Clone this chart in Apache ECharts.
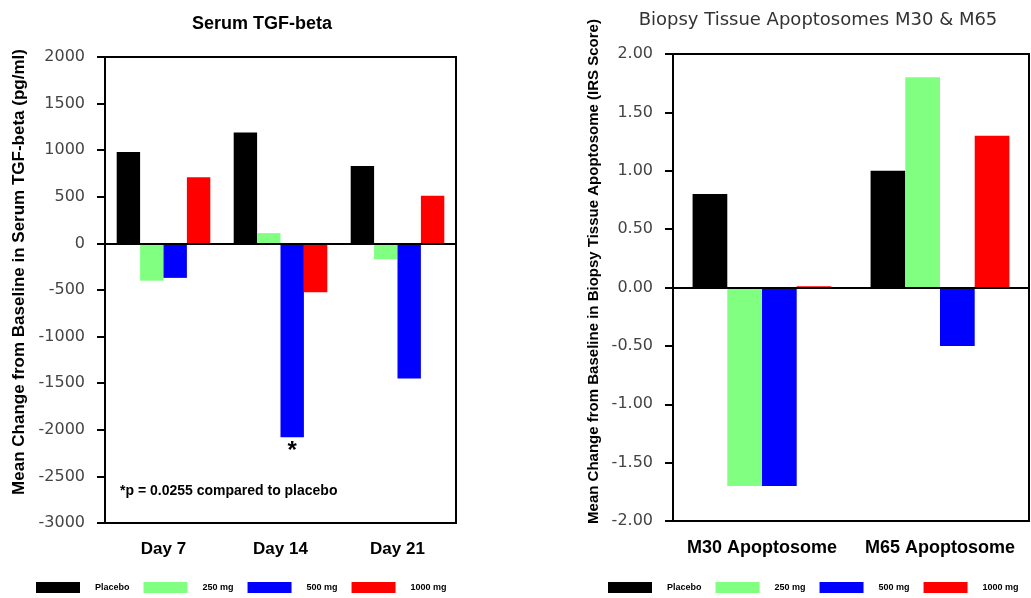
<!DOCTYPE html>
<html>
<head>
<meta charset="utf-8">
<script src="https://cdn.jsdelivr.net/npm/echarts@6/dist/echarts.min.js"></script>
<style>
  html, body { margin: 0; padding: 0; background: #fff; }
  #chart { width: 1031px; height: 598px; }
</style>
</head>
<body>
<div id="chart"></div>
<script>
// Serum TGF-beta: mean change from baseline (pg/ml)
const tgfCategories = ['Day 7', 'Day 14', 'Day 21'];
const tgfPlacebo = [980, 1190, 830];
const tgf250 = [-400, 110, -170];
const tgf500 = [-370, -2080, -1450];
const tgf1000 = [710, -525, 510];
const tgf500Significant = [false, true, false];
const tgfAxis = { min: -3000, max: 2000, interval: 500 };

// Biopsy tissue apoptosomes: mean change from baseline (IRS score)
const apoCategories = ['M30 Apoptosome', 'M65 Apoptosome'];
const apoPlacebo = [0.80, 1.00];
const apo250 = [-1.70, 1.80];
const apo500 = [-1.70, -0.50];
const apo1000 = [0.01, 1.30];
const apoAxis = { min: -2, max: 2, interval: 0.5 };

const seriesNames = ['Placebo', '250 mg', '500 mg', '1000 mg'];
const seriesColors = ['#000000', '#80FF80', '#0000FF', '#FF0000'];

const tickFont = { fontFamily: 'DejaVu Sans', fontSize: 16, color: '#444' };
const boldFont = 'Liberation Sans';

function zeroLine() {
  return {
    silent: true,
    symbol: 'none',
    label: { show: false },
    lineStyle: { color: '#000', width: 2, type: 'solid' },
    data: [{ yAxis: 0 }]
  };
}

function barSeries(name, idx, values, axisIndex, extra) {
  return Object.assign({
    name: name,
    type: 'bar',
    xAxisIndex: axisIndex,
    yAxisIndex: axisIndex,
    data: values,
    barGap: '0%',
    barCategoryGap: axisIndex === 0 ? '20%' : '22%',
    itemStyle: { color: seriesColors[idx] },
    emphasis: { disabled: true },
    animation: false
  }, extra || {});
}

const tgf500Data = tgf500.map((v, i) => tgf500Significant[i]
  ? { value: v, label: { show: true, position: 'bottom', distance: 2, formatter: '*',
      fontSize: 24, fontWeight: 'bold', color: '#000', fontFamily: boldFont } }
  : v);

const legendBase = {
  data: seriesNames,
  top: 582,
  padding: 0,
  itemWidth: 44,
  itemHeight: 11,
  itemGap: 14,
  icon: 'rect',
  selectedMode: false,
  formatter: '{n|{name}}',
  textStyle: {
    rich: {
      n: { fontFamily: boldFont, fontSize: 9, fontWeight: 'bold', color: '#000',
           width: 40, padding: [0, 0, 0, 10] }
    }
  }
};

const option = {
  animation: false,
  backgroundColor: '#fff',
  title: [
    { text: 'Serum TGF-beta', left: 257, top: 10, textAlign: 'center',
      textStyle: { fontFamily: boldFont, fontSize: 18, fontWeight: 'bold', color: '#000' } },
    { text: 'Biopsy Tissue Apoptosomes M30 & M65', left: 813, top: 6, textAlign: 'center',
      textStyle: { fontFamily: 'DejaVu Sans', fontSize: 18, fontWeight: 'normal', color: '#333' } }
  ],
  legend: [
    Object.assign({ left: 36 }, legendBase),
    Object.assign({ left: 608 }, legendBase)
  ],
  grid: [
    { left: 105, right: 575, top: 57, bottom: 75, show: true, borderColor: '#000', borderWidth: 2 },
    { left: 673, right: 2, top: 54, bottom: 77, show: true, borderColor: '#000', borderWidth: 2 }
  ],
  xAxis: [
    { type: 'category', gridIndex: 0, data: tgfCategories,
      axisLine: { onZero: false, lineStyle: { color: '#000', width: 2 } },
      axisTick: { alignWithLabel: true, length: 6, lineStyle: { color: '#000', width: 2 } },
      axisLabel: { margin: 18, interval: 0, fontFamily: boldFont, fontSize: 17, fontWeight: 'bold', color: '#000' } },
    { type: 'category', gridIndex: 1, data: apoCategories,
      axisLine: { onZero: false, lineStyle: { color: '#000', width: 2 } },
      axisTick: { alignWithLabel: true, length: 6, lineStyle: { color: '#000', width: 2 } },
      axisLabel: { margin: 18, interval: 0, hideOverlap: false, fontFamily: boldFont, fontSize: 18, fontWeight: 'bold', color: '#000' } }
  ],
  yAxis: [
    { type: 'value', gridIndex: 0, min: tgfAxis.min, max: tgfAxis.max, interval: tgfAxis.interval,
      name: 'Mean Change from Baseline in Serum TGF-beta (pg/ml)',
      nameLocation: 'middle', nameGap: 77,
      nameTextStyle: { fontFamily: boldFont, fontSize: 17, fontWeight: 'bold', color: '#000',
                       padding: [0, 0, 0, 36] },
      axisLine: { show: true, lineStyle: { color: '#000', width: 2 } },
      axisTick: { show: true, length: 8, lineStyle: { color: '#000', width: 2 } },
      axisLabel: Object.assign({ margin: 20, formatter: v => String(v) }, tickFont),
      splitLine: { show: false } },
    { type: 'value', gridIndex: 1, min: apoAxis.min, max: apoAxis.max, interval: apoAxis.interval,
      name: 'Mean Change from Baseline in Biopsy Tissue Apoptosome (IRS Score)',
      nameLocation: 'middle', nameGap: 72,
      nameTextStyle: { fontFamily: boldFont, fontSize: 15, fontWeight: 'bold', color: '#000',
                       padding: [0, 0, 0, 32] },
      axisLine: { show: true, lineStyle: { color: '#000', width: 2 } },
      axisTick: { show: true, length: 8, lineStyle: { color: '#000', width: 2 } },
      axisLabel: Object.assign({ margin: 20, formatter: v => v.toFixed(2) }, tickFont),
      splitLine: { show: false } }
  ],
  graphic: [
    { type: 'text', left: 120, top: 484,
      style: { text: '*p = 0.0255 compared to placebo', fontFamily: boldFont,
               fontSize: 14, fontWeight: 'bold', fill: '#000' } }
  ],
  series: [
    barSeries(seriesNames[0], 0, tgfPlacebo, 0, { markLine: zeroLine(), z: 2 }),
    barSeries(seriesNames[1], 1, tgf250, 0),
    barSeries(seriesNames[2], 2, tgf500Data, 0),
    barSeries(seriesNames[3], 3, tgf1000, 0),
    barSeries(seriesNames[0], 0, apoPlacebo, 1, { markLine: zeroLine(), z: 2 }),
    barSeries(seriesNames[1], 1, apo250, 1),
    barSeries(seriesNames[2], 2, apo500, 1),
    barSeries(seriesNames[3], 3, apo1000, 1)
  ]
};

const chart = echarts.init(document.getElementById('chart'), null, { renderer: 'canvas' });
chart.setOption(option);
</script>
</body>
</html>
